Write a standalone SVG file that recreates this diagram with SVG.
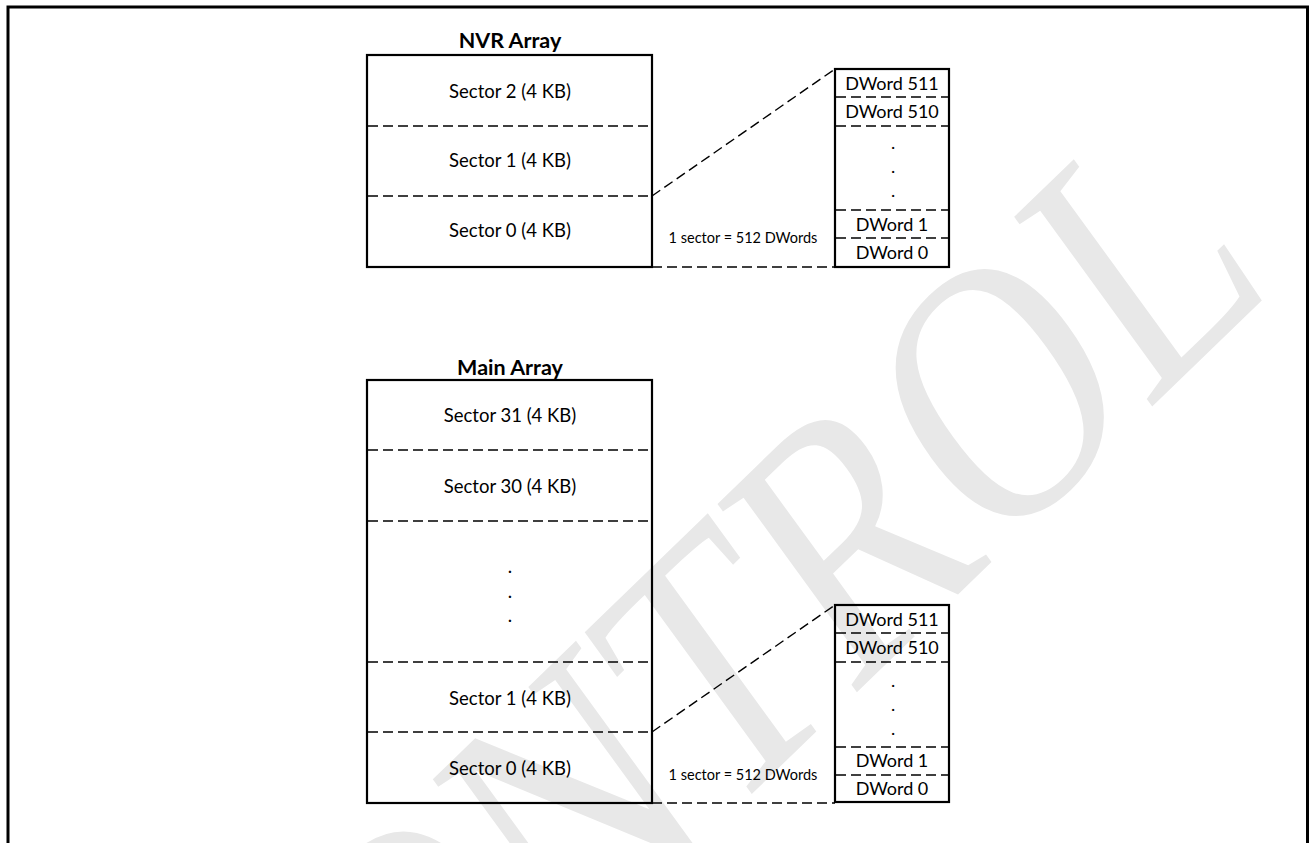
<svg xmlns="http://www.w3.org/2000/svg" width="1309" height="843" viewBox="0 0 1309 843">
<style>
.box{fill:none;stroke:#000;stroke-width:2.2}
.dash{fill:none;stroke:#000;stroke-width:1.4;stroke-dasharray:10 5}
.t{font-family:Lato,"Open Sans",sans-serif;font-size:18.5px;fill:#000;text-anchor:middle}
.d{font-family:Lato,"Open Sans",sans-serif;font-size:18px;fill:#000;text-anchor:middle}
.ttl{font-family:Lato,"Open Sans",sans-serif;font-size:21.5px;font-weight:bold;fill:#000;text-anchor:middle}
.lbl{font-family:Lato,"Open Sans",sans-serif;font-size:14.5px;fill:#000;text-anchor:middle}
.wm{font-family:"Liberation Serif",serif;font-size:328px;fill:#e8e8e8}
</style>
<rect width="1309" height="843" fill="#fff"/>
<g id="watermark">
<text class="wm" transform="translate(268,1262) scale(1,1.153) rotate(-40) scale(0.85,1)">CONTROL</text>
</g>
<rect x="8" y="7" width="1299.5" height="900" fill="none" stroke="#000" stroke-width="3"/>

<g id="nvr-array">
<text class="ttl" x="510" y="48">NVR Array</text>
<rect class="box" x="367" y="55" width="285" height="212"/>
<line class="dash" x1="368" y1="126" x2="651" y2="126"/>
<line class="dash" x1="368" y1="196" x2="651" y2="196"/>
<text class="t" x="510" y="98">Sector 2 (4 KB)</text>
<text class="t" x="510" y="167">Sector 1 (4 KB)</text>
<text class="t" x="510" y="237">Sector 0 (4 KB)</text>
</g>

<g id="nvr-dwords">
<rect class="box" x="835" y="69" width="114" height="198"/>
<line class="dash" x1="836" y1="97" x2="948" y2="97"/>
<line class="dash" x1="836" y1="126" x2="948" y2="126"/>
<line class="dash" x1="836" y1="210" x2="948" y2="210"/>
<line class="dash" x1="836" y1="238" x2="948" y2="238"/>
<text class="d" x="892" y="90">DWord 511</text>
<text class="d" x="892" y="118">DWord 510</text>
<text class="d" x="893" y="149">.</text>
<text class="d" x="893" y="173">.</text>
<text class="d" x="893" y="197">.</text>
<text class="d" x="892" y="231">DWord 1</text>
<text class="d" x="892" y="259">DWord 0</text>
</g>

<g id="main-array">
<text class="ttl" x="510" y="375">Main Array</text>
<rect class="box" x="367" y="380" width="285" height="423"/>
<line class="dash" x1="368" y1="450" x2="651" y2="450"/>
<line class="dash" x1="368" y1="521" x2="651" y2="521"/>
<line class="dash" x1="368" y1="662" x2="651" y2="662"/>
<line class="dash" x1="368" y1="732" x2="651" y2="732"/>
<text class="t" x="510" y="422">Sector 31 (4 KB)</text>
<text class="t" x="510" y="493">Sector 30 (4 KB)</text>
<text class="t" x="510" y="573">.</text>
<text class="t" x="510" y="598">.</text>
<text class="t" x="510" y="622">.</text>
<text class="t" x="510" y="705">Sector 1 (4 KB)</text>
<text class="t" x="510" y="775">Sector 0 (4 KB)</text>
</g>

<g id="main-dwords">
<rect class="box" x="835" y="605" width="114" height="197"/>
<line class="dash" x1="836" y1="633" x2="948" y2="633"/>
<line class="dash" x1="836" y1="662" x2="948" y2="662"/>
<line class="dash" x1="836" y1="747" x2="948" y2="747"/>
<line class="dash" x1="836" y1="775" x2="948" y2="775"/>
<text class="d" x="892" y="626">DWord 511</text>
<text class="d" x="892" y="654">DWord 510</text>
<text class="d" x="893" y="687">.</text>
<text class="d" x="893" y="711">.</text>
<text class="d" x="893" y="735">.</text>
<text class="d" x="892" y="767">DWord 1</text>
<text class="d" x="892" y="795">DWord 0</text>
</g>

<g id="connectors">
<line class="dash" x1="652" y1="196" x2="835" y2="69"/>
<line class="dash" x1="652" y1="267" x2="835" y2="267"/>
<line class="dash" x1="652" y1="732" x2="835" y2="605"/>
<line class="dash" x1="652" y1="803" x2="835" y2="803"/>
<text class="lbl" x="743" y="243">1 sector = 512 DWords</text>
<text class="lbl" x="743" y="780">1 sector = 512 DWords</text>
</g>
</svg>
